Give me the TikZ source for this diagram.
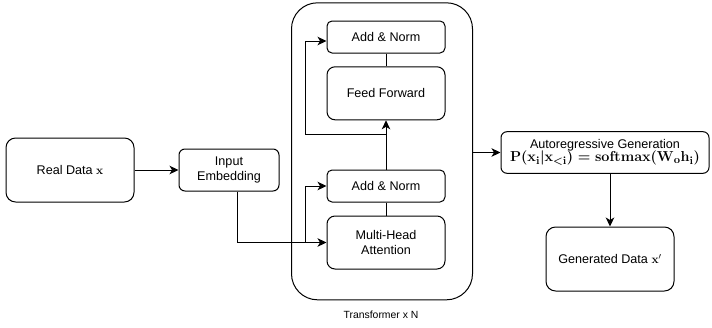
\documentclass[tikz,border=0pt]{standalone}
\usepackage[no-math]{fontspec}
\setmainfont{Liberation Sans}
\usetikzlibrary{arrows.meta,calc}
\newsavebox\armathbox
\tikzset{
  box/.style={draw, line width=1pt, inner sep=0pt, align=center, font=\fontsize{12.6}{15.6}\selectfont},
  conn/.style={line width=1pt},
  arr/.style={line width=1pt, -{Stealth[length=9pt,width=8.5pt,inset=2.5pt]}},
}
\begin{document}
\sbox\armathbox{\fontsize{15.8}{18}\selectfont\boldmath$\mathbf{P(x_i\vert x_{<i})=softmax(W_oh_i)}$}%
\begin{tikzpicture}[x=1pt,y=-1pt]
\useasboundingbox (0,0) rectangle (712,327);
% transformer container
\node[box, rounded corners=26pt, minimum width=181pt, minimum height=297pt] (trans) at (382,151.3) {};
\node[font=\fontsize{10.4}{12}\selectfont, inner sep=0pt] (tlabel) at (381,315) {Transformer x N};
% nodes
\node[box, rounded corners=9.6pt, minimum width=128pt, minimum height=64pt] (real) at (70,170) {Real Data $\mathbf{x}$};
\node[box, rounded corners=6pt, minimum width=100pt, minimum height=42pt] (emb) at (229,170) {Input\\Embedding};
\node[box, rounded corners=5pt, minimum width=118pt, minimum height=32pt] (an2) at (386,37) {Add \& Norm};
\node[box, rounded corners=8pt, minimum width=118pt, minimum height=53pt] (ff) at (386,93.3) {Feed Forward};
\node[box, rounded corners=5pt, minimum width=118pt, minimum height=32pt] (an1) at (386,186) {Add \& Norm};
\node[box, rounded corners=8pt, minimum width=118pt, minimum height=53pt] (mha) at (386,242.5) {Multi-Head\\Attention};
\node[box, rounded corners=6pt, minimum width=208pt, minimum height=41.6pt] (autog) at (605,152.5) {Autoregressive Generation\\[-3pt]\usebox\armathbox};
\node[box, rounded corners=9.6pt, minimum width=128pt, minimum height=64pt] (gen) at (610,259) {Generated Data $\mathbf{x}'$};
% connectors
\draw[arr] (real.east) -- (emb.west);
\draw[arr] ([xshift=8pt]emb.south) |- (mha.west);
\coordinate (b1) at ([xshift=-21pt]mha.west);
\draw[arr] (b1) |- (an1.west);
\draw[arr] (an1.north) -- (ff.south);
\coordinate (b2) at ($(an1.north)!0.716!(ff.south)$);
\coordinate (b3) at ([xshift=-21pt]an2.west |- b2);
\draw[arr] (b2) -- (b3) |- ([yshift=-4pt]an2.west);
\draw[conn] (an2.south) -- (ff.north);
\draw[conn] (an1.south) -- (mha.north);
\draw[arr] (trans.east |- autog.west) -- (autog.west);
\draw[arr] (gen.north |- autog.south) -- (gen.north);
\end{tikzpicture}
\end{document}
